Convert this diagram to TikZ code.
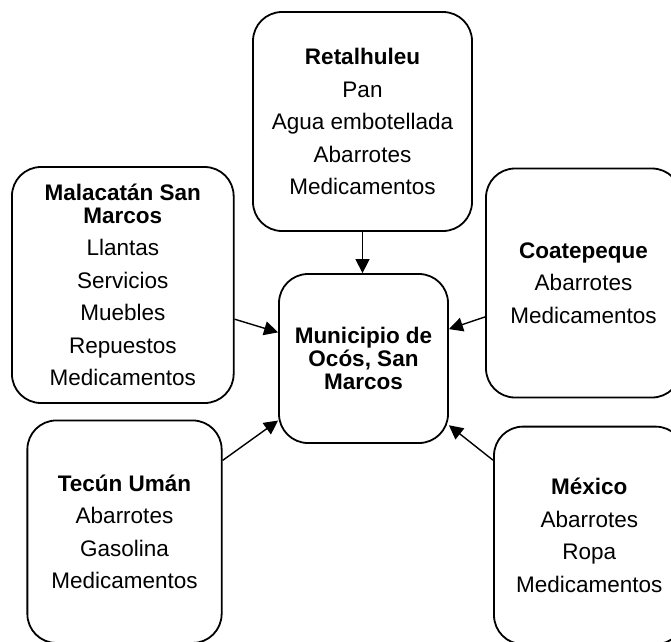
\documentclass[tikz,border=0pt]{standalone}
\usepackage{fontspec}
\setmainfont{Liberation Sans}
\usetikzlibrary{arrows.meta}

\begin{document}
\begin{tikzpicture}[x=1pt, y=-1pt,
    place/.style={draw, line width=1.8pt, rounded corners=29pt, align=center,
        inner sep=0pt, font=\fontsize{22.5}{32.5}\selectfont},
    flow/.style={line width=1.4pt, -{Triangle[length=14pt,width=14pt]}}]

    % Frame
    \useasboundingbox (0,0) rectangle (671,641);
    \clip (0,0) rectangle (671,641);

    % Centre
    \node[place, minimum width=169pt, minimum height=169pt,
        font=\bfseries\fontsize{22.5}{23}\selectfont] (ocos) at (363.5,358.5)
        {Municipio de\\Ocós, San\\Marcos};

    % Places
    \node[place, minimum width=219pt, minimum height=219pt] (reu) at (362.5,121.5)
        {\textbf{Retalhuleu}\\Pan\\Agua embotellada\\Abarrotes\\Medicamentos};
    \node[place, minimum width=221.7pt, minimum height=236pt] (mala) at (122.8,285)
        {\textbf{Malacatán San}\\[-9.5pt]\textbf{Marcos}\\Llantas\\Servicios\\Muebles\\Repuestos\\Medicamentos};
    \node[place, minimum width=195pt, minimum height=229pt] (coat) at (583.5,283)
        {\textbf{Coatepeque}\\Abarrotes\\Medicamentos};
    \node[place, minimum width=194.3pt, minimum height=222.5pt] (tecun) at (124.5,531.7)
        {\textbf{Tecún Umán}\\Abarrotes\\Gasolina\\Medicamentos};
    \node[place, minimum width=190.6pt, minimum height=217.6pt] (mex) at (589.3,535.4)
        {\textbf{México}\\Abarrotes\\Ropa\\Medicamentos};

    % Arrows
    \draw[flow] (reu.south) -- (reu.south |- ocos.north);
    \draw[flow] (mala.-17) -- (ocos.163);
    \draw[flow] (coat.199) -- (ocos.19);
    \draw[flow] (tecun.36) -- (ocos.216);
    \draw[flow] (mex.142) -- (ocos.-38);

\end{tikzpicture}
\end{document}
